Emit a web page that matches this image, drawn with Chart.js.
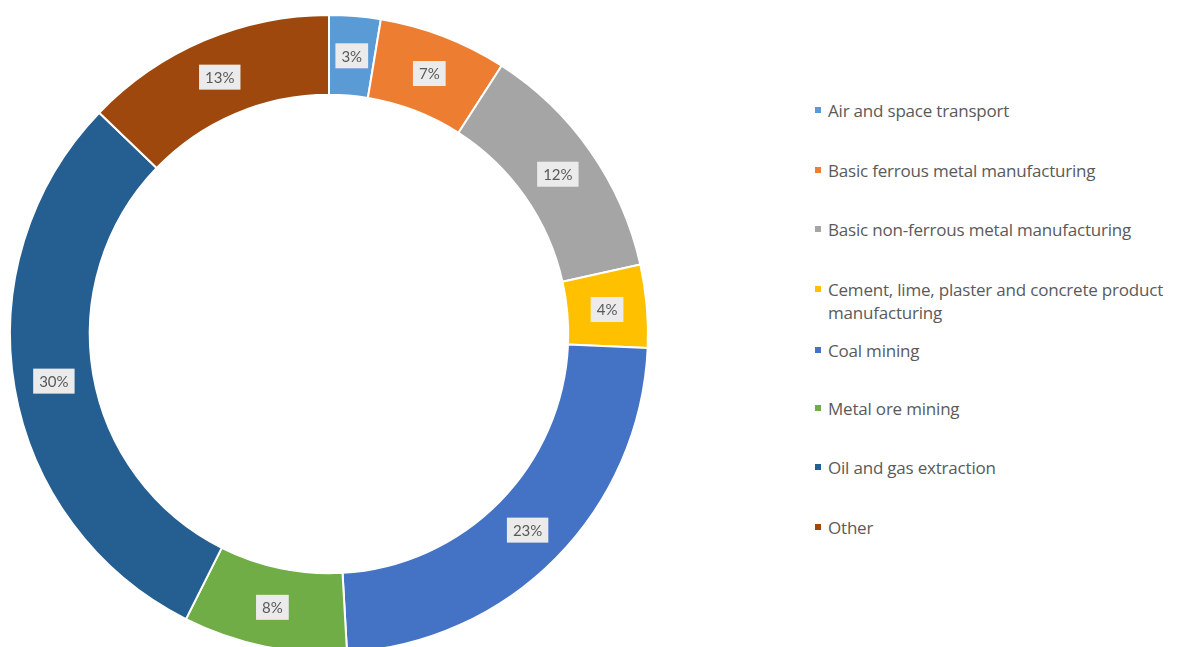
<!DOCTYPE html>
<html lang="en">
<head>
  <meta charset="UTF-8">
  <title>Emissions by sector</title>
  <script src="https://cdn.jsdelivr.net/npm/chart.js"></script>
  <style>
    html, body { margin: 0; padding: 0; background: #fff; overflow: hidden; }
    body { width: 1182px; height: 647px; position: relative; font-family: "Open Sans", Lato, sans-serif; }
    #wrap { position: absolute; left: 0; top: 0; width: 660px; height: 672px; }
    #legend { position: absolute; left: 0; top: 0; margin: 0; padding: 0; list-style: none; }
    #legend li { position: absolute; left: 815px; width: 367px; font-size: 17px; line-height: 23px; color: #5a5a5a; letter-spacing: -0.2px; }
    #legend li span.box { position: absolute; left: 0; top: 8px; width: 6px; height: 6px; }
    #legend li span.txt { display: block; margin-left: 13px; width: 354px; }
  </style>
</head>
<body>
  <div id="wrap"><canvas id="sectorChart"></canvas></div>
  <ul id="legend"></ul>

<script>
  const sectores = [
    'Air and space transport',
    'Basic ferrous metal manufacturing',
    'Basic non-ferrous metal manufacturing',
    'Cement, lime, plaster and concrete product manufacturing',
    'Coal mining',
    'Metal ore mining',
    'Oil and gas extraction',
    'Other'
  ];
  const valores = [2.6, 6.5, 12.4, 4.2, 23.4, 8.3, 29.8, 12.8];
  const cores = ['#5B9BD5', '#ED7D31', '#A5A5A5', '#FFC000', '#4472C4', '#70AD47', '#255E91', '#9E480E'];

  // legend (html, fixed slots like the original)
  const legendTop = [99, 159, 218, 278, 339, 397, 456, 516];
  const ul = document.getElementById('legend');
  sectores.forEach((s, i) => {
    ul.innerHTML += `<li style="top:${legendTop[i]}px"><span class="box" style="background:${cores[i]}"></span><span class="txt">${s}</span></li>`;
  });

  // percentage labels in grey boxes at the middle of each slice
  const rotulos = {
    id: 'rotulos',
    afterDatasetsDraw(chart) {
      const ctx = chart.ctx;
      const meta = chart.getDatasetMeta(0);
      const total = valores.reduce((a, b) => a + b, 0);
      ctx.save();
      ctx.font = '15px Lato, "Open Sans", sans-serif';
      ctx.textAlign = 'center';
      ctx.textBaseline = 'middle';
      meta.data.forEach((arc, i) => {
        const p = arc.tooltipPosition();
        const txt = Math.round(valores[i] / total * 100) + '%';
        const w = ctx.measureText(txt).width + 12;
        const h = 25;
        ctx.fillStyle = '#ebebeb';
        ctx.fillRect(p.x - w / 2, p.y - h / 2, w, h);
        ctx.fillStyle = '#595959';
        ctx.fillText(txt, p.x, p.y + 1);
      });
      ctx.restore();
    }
  };

  new Chart(document.getElementById('sectorChart'), {
    type: 'doughnut',
    data: {
      labels: sectores,
      datasets: [{
        data: valores,
        backgroundColor: cores,
        borderColor: '#ffffff',
        borderWidth: 2
      }]
    },
    options: {
      responsive: true,
      maintainAspectRatio: false,
      animation: false,
      cutout: '75%',
      layout: { padding: { left: 9, right: 11, top: 14, bottom: 18 } },
      plugins: {
        legend: { display: false },
        tooltip: { enabled: false }
      }
    },
    plugins: [rotulos]
  });
</script>
</body>
</html>
